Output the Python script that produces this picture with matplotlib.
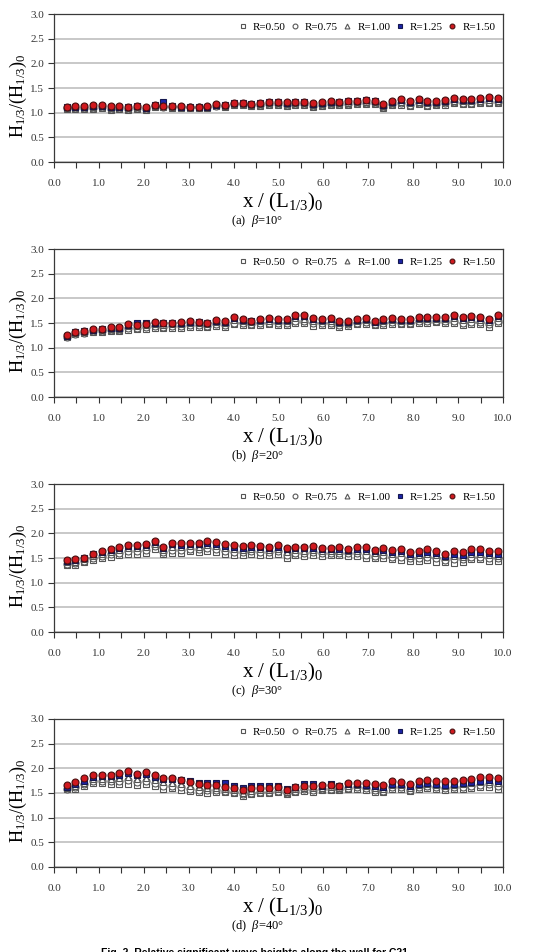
import matplotlib
matplotlib.use("Agg")
import matplotlib.pyplot as plt

plt.rcParams["font.family"] = ["Liberation Serif", "DejaVu Serif"]
plt.rcParams["mathtext.fontset"] = "custom"
plt.rcParams["mathtext.rm"] = "Liberation Serif"
plt.rcParams["mathtext.it"] = "Liberation Serif:italic"

# measuring positions along the wall, x / (L1/3)0
x = [0.28, 0.47, 0.67, 0.86, 1.06, 1.26, 1.45, 1.65, 1.84, 2.04,
     2.24, 2.43, 2.63, 2.82, 3.02, 3.22, 3.41, 3.61, 3.80, 4.00,
     4.20, 4.39, 4.59, 4.78, 4.98, 5.18, 5.37, 5.57, 5.76, 5.96,
     6.16, 6.35, 6.55, 6.74, 6.94, 7.14, 7.33, 7.53, 7.72, 7.92,
     8.12, 8.31, 8.51, 8.70, 8.90, 9.10, 9.29, 9.49, 9.68, 9.88]

labels = ["R=0.50", "R=0.75", "R=1.00", "R=1.25", "R=1.50"]
captions = [r"(a)  $\beta$=10°", r"(b)  $\beta$=20°", r"(c)  $\beta$=30°", r"(d)  $\beta$=40°"]

# beta = 10
r050_a = [1.07,1.07,1.07,1.08,1.09,1.06,1.07,1.05,1.07,1.05,1.11,1.12,1.10,1.10,1.10,1.10,1.10,1.13,1.12,1.15,1.15,1.14,1.14,1.15,1.16,1.14,1.16,1.15,1.12,1.14,1.16,1.15,1.16,1.17,1.18,1.17,1.10,1.15,1.16,1.13,1.17,1.14,1.15,1.16,1.19,1.18,1.18,1.19,1.19,1.19]
r075_a = [1.09,1.09,1.09,1.10,1.11,1.08,1.09,1.08,1.09,1.07,1.13,1.12,1.11,1.11,1.11,1.11,1.11,1.14,1.13,1.17,1.17,1.15,1.16,1.17,1.18,1.16,1.18,1.17,1.14,1.16,1.18,1.17,1.18,1.19,1.20,1.19,1.12,1.17,1.19,1.16,1.19,1.16,1.17,1.19,1.21,1.20,1.20,1.21,1.21,1.21]
r100_a = [1.10,1.11,1.11,1.12,1.13,1.10,1.11,1.10,1.11,1.09,1.14,1.13,1.12,1.12,1.11,1.11,1.12,1.15,1.14,1.18,1.18,1.16,1.18,1.19,1.19,1.18,1.19,1.19,1.16,1.18,1.20,1.19,1.20,1.21,1.22,1.21,1.14,1.20,1.22,1.19,1.22,1.19,1.20,1.22,1.24,1.23,1.23,1.24,1.25,1.24]
r125_a = [1.11,1.12,1.12,1.14,1.14,1.12,1.12,1.11,1.13,1.10,1.15,1.22,1.13,1.12,1.11,1.11,1.12,1.16,1.15,1.19,1.19,1.17,1.19,1.21,1.21,1.20,1.21,1.21,1.18,1.20,1.22,1.21,1.23,1.23,1.25,1.23,1.16,1.22,1.25,1.22,1.25,1.21,1.22,1.24,1.28,1.26,1.25,1.28,1.29,1.27]
r150_a = [1.12,1.13,1.13,1.15,1.15,1.13,1.13,1.12,1.14,1.11,1.16,1.14,1.14,1.13,1.12,1.12,1.13,1.17,1.16,1.20,1.20,1.18,1.20,1.22,1.22,1.21,1.22,1.22,1.19,1.21,1.23,1.22,1.24,1.24,1.26,1.24,1.18,1.24,1.27,1.24,1.27,1.23,1.24,1.26,1.30,1.28,1.27,1.30,1.31,1.29]

# beta = 20
r050_b = [1.21,1.27,1.29,1.32,1.32,1.33,1.33,1.36,1.37,1.38,1.39,1.39,1.40,1.40,1.42,1.42,1.41,1.44,1.41,1.47,1.45,1.45,1.46,1.47,1.46,1.46,1.51,1.49,1.44,1.45,1.46,1.42,1.43,1.48,1.48,1.45,1.46,1.48,1.48,1.47,1.50,1.51,1.52,1.50,1.51,1.46,1.48,1.48,1.42,1.51]
r075_b = [1.22,1.28,1.30,1.33,1.34,1.35,1.35,1.39,1.40,1.41,1.43,1.42,1.43,1.44,1.46,1.45,1.44,1.48,1.45,1.51,1.49,1.48,1.50,1.51,1.50,1.50,1.55,1.54,1.49,1.49,1.50,1.46,1.47,1.51,1.52,1.48,1.50,1.52,1.51,1.51,1.54,1.54,1.55,1.54,1.55,1.51,1.53,1.52,1.47,1.55]
r100_b = [1.23,1.30,1.32,1.35,1.36,1.38,1.38,1.43,1.44,1.45,1.47,1.46,1.47,1.48,1.50,1.49,1.48,1.52,1.49,1.56,1.54,1.52,1.54,1.55,1.54,1.54,1.60,1.59,1.54,1.54,1.55,1.50,1.51,1.55,1.56,1.52,1.54,1.56,1.55,1.55,1.58,1.58,1.59,1.58,1.60,1.56,1.58,1.57,1.53,1.60]
r125_b = [1.24,1.31,1.33,1.36,1.37,1.40,1.40,1.46,1.49,1.50,1.51,1.49,1.50,1.51,1.53,1.52,1.50,1.55,1.53,1.60,1.57,1.54,1.57,1.58,1.57,1.57,1.64,1.64,1.58,1.57,1.58,1.52,1.53,1.57,1.58,1.53,1.57,1.59,1.57,1.57,1.61,1.60,1.61,1.60,1.64,1.60,1.62,1.60,1.57,1.64]
r150_b = [1.25,1.32,1.34,1.37,1.38,1.41,1.41,1.47,1.46,1.47,1.52,1.50,1.51,1.52,1.54,1.53,1.51,1.56,1.54,1.62,1.59,1.55,1.58,1.60,1.59,1.59,1.66,1.66,1.60,1.59,1.60,1.54,1.55,1.59,1.60,1.55,1.59,1.61,1.59,1.59,1.63,1.62,1.63,1.62,1.66,1.62,1.64,1.62,1.59,1.66]

# beta = 30
r050_c = [1.36,1.36,1.41,1.46,1.51,1.53,1.56,1.58,1.59,1.61,1.68,1.58,1.61,1.61,1.64,1.62,1.64,1.62,1.59,1.57,1.56,1.59,1.57,1.57,1.58,1.51,1.56,1.55,1.57,1.55,1.56,1.56,1.55,1.55,1.50,1.50,1.49,1.47,1.46,1.43,1.44,1.45,1.42,1.41,1.40,1.41,1.47,1.48,1.44,1.44]
r075_c = [1.38,1.39,1.44,1.50,1.55,1.58,1.61,1.64,1.65,1.67,1.74,1.63,1.67,1.67,1.69,1.68,1.70,1.68,1.65,1.63,1.62,1.64,1.63,1.62,1.64,1.57,1.61,1.60,1.62,1.60,1.60,1.60,1.60,1.60,1.57,1.55,1.56,1.53,1.53,1.49,1.51,1.52,1.49,1.46,1.48,1.47,1.53,1.53,1.50,1.50]
r100_c = [1.41,1.42,1.47,1.54,1.59,1.63,1.66,1.70,1.70,1.72,1.79,1.67,1.73,1.73,1.74,1.73,1.76,1.74,1.71,1.68,1.67,1.69,1.68,1.67,1.69,1.63,1.66,1.65,1.67,1.65,1.65,1.65,1.64,1.65,1.64,1.60,1.62,1.59,1.60,1.55,1.57,1.59,1.56,1.52,1.55,1.53,1.59,1.59,1.56,1.55]
r125_c = [1.43,1.45,1.50,1.58,1.63,1.67,1.71,1.75,1.75,1.77,1.83,1.71,1.78,1.77,1.78,1.78,1.80,1.78,1.75,1.72,1.71,1.72,1.72,1.70,1.72,1.68,1.71,1.70,1.71,1.68,1.68,1.69,1.67,1.69,1.69,1.64,1.67,1.63,1.64,1.59,1.61,1.63,1.60,1.55,1.59,1.57,1.62,1.63,1.60,1.59]
r150_c = [1.45,1.47,1.51,1.59,1.64,1.68,1.72,1.76,1.76,1.78,1.85,1.72,1.81,1.80,1.81,1.80,1.84,1.82,1.78,1.76,1.74,1.76,1.75,1.73,1.76,1.70,1.73,1.72,1.74,1.71,1.71,1.72,1.69,1.72,1.72,1.67,1.70,1.66,1.68,1.62,1.65,1.68,1.64,1.59,1.64,1.62,1.68,1.68,1.65,1.64]

# beta = 40
r050_d = [1.58,1.59,1.64,1.71,1.71,1.69,1.69,1.69,1.66,1.68,1.65,1.59,1.60,1.56,1.54,1.52,1.51,1.52,1.52,1.49,1.44,1.47,1.51,1.50,1.53,1.48,1.53,1.55,1.52,1.56,1.56,1.56,1.58,1.58,1.56,1.52,1.52,1.59,1.58,1.54,1.59,1.60,1.58,1.56,1.58,1.59,1.60,1.62,1.62,1.58]
r075_d = [1.59,1.62,1.68,1.75,1.75,1.74,1.75,1.76,1.72,1.74,1.71,1.65,1.65,1.62,1.59,1.57,1.56,1.56,1.55,1.52,1.47,1.51,1.53,1.53,1.55,1.50,1.55,1.58,1.56,1.58,1.59,1.58,1.61,1.62,1.60,1.56,1.55,1.63,1.62,1.57,1.63,1.64,1.62,1.60,1.62,1.63,1.65,1.67,1.68,1.64]
r100_d = [1.61,1.65,1.71,1.79,1.79,1.79,1.81,1.83,1.79,1.81,1.77,1.72,1.71,1.68,1.65,1.62,1.61,1.61,1.59,1.56,1.51,1.55,1.56,1.56,1.58,1.53,1.58,1.61,1.60,1.61,1.62,1.61,1.65,1.66,1.64,1.61,1.59,1.67,1.66,1.61,1.67,1.68,1.66,1.65,1.67,1.68,1.70,1.72,1.73,1.70]
r125_d = [1.62,1.68,1.75,1.83,1.84,1.85,1.87,1.90,1.86,1.88,1.83,1.79,1.78,1.76,1.74,1.71,1.71,1.70,1.70,1.64,1.60,1.64,1.64,1.64,1.65,1.58,1.63,1.68,1.68,1.65,1.68,1.64,1.69,1.69,1.66,1.64,1.62,1.69,1.69,1.64,1.69,1.70,1.68,1.67,1.69,1.70,1.73,1.75,1.76,1.74]
r150_d = [1.66,1.72,1.80,1.86,1.87,1.87,1.91,1.94,1.89,1.92,1.86,1.81,1.80,1.77,1.73,1.68,1.66,1.66,1.62,1.61,1.56,1.60,1.60,1.60,1.62,1.56,1.62,1.65,1.65,1.66,1.66,1.65,1.70,1.71,1.70,1.69,1.67,1.74,1.73,1.68,1.75,1.77,1.74,1.74,1.75,1.77,1.79,1.82,1.83,1.81]

panels = [
    [r050_a, r075_a, r100_a, r125_a, r150_a],
    [r050_b, r075_b, r100_b, r125_b, r150_b],
    [r050_c, r075_c, r100_c, r125_c, r150_c],
    [r050_d, r075_d, r100_d, r125_d, r150_d],
]

styles = [
    dict(marker="s", mfc="white", mec="#555555"),
    dict(marker="o", mfc="white", mec="#555555"),
    dict(marker="^", mfc="white", mec="#555555"),
    dict(marker="s", mfc="#1c24a8", mec="#141850"),
    dict(marker="o", mfc="#d0191f", mec="#4a1010"),
]

W, H = 556, 952
fig = plt.figure(figsize=(W / 100, H / 100), dpi=100)

ax_top_px = [14, 249, 484, 719]
ax_h_px = 148
left_px, right_px = 54, 503

for i, series in enumerate(panels):
    top = ax_top_px[i]
    bottom = top + ax_h_px
    ax = fig.add_axes([left_px / W, 1 - bottom / H, (right_px - left_px) / W, ax_h_px / H])
    for ys, lab, st in zip(series, labels, styles):
        ax.plot(x, ys, linestyle="none", markersize=5.0, markeredgewidth=0.8,
                label=lab, **st)
    ax.set_xlim(0, 10)
    ax.set_ylim(0, 3)
    ax.set_xticks([0, 1, 2, 3, 4, 5, 6, 7, 8, 9, 10])
    ax.set_xticklabels(["%.1f" % v for v in range(11)])
    ax.set_xticks([0.5 + k for k in range(10)], minor=True)
    ax.set_yticks([0, 0.5, 1.0, 1.5, 2.0, 2.5, 3.0])
    ax.set_yticklabels(["0.0", "0.5", "1.0", "1.5", "2.0", "2.5", "3.0"])
    ax.yaxis.grid(True, color="#c4c4c4", linewidth=1.3)
    ax.set_axisbelow(True)
    ax.tick_params(axis="x", which="both", direction="out", length=4, width=0.8,
                   pad=8, labelsize=8, colors="#333333")
    ax.tick_params(axis="y", direction="out", length=4, width=0.8,
                   pad=3, labelsize=8, colors="#333333")
    for sp in ax.spines.values():
        sp.set_color("#3a3a3a")
        sp.set_linewidth(0.9)
    ax.set_ylabel(r"$\mathrm{H_{1/3}/(H_{1/3})_0}$", fontsize=13)
    ax.yaxis.set_label_coords(-25 / (right_px - left_px), 0.45)
    ax.legend(loc="upper right", ncol=5, frameon=False, fontsize=8,
              handlelength=0.8, handletextpad=0.5, columnspacing=0.45,
              markerscale=0.7, borderaxespad=0.3, bbox_to_anchor=(1.0, 1.0))
    fig.text(283 / W, 1 - (bottom + 40) / H, r"$\mathrm{x\ /\ (L_{1/3})_0}$",
             fontsize=15, ha="center", va="center")
    fig.text(257 / W, 1 - (bottom + 59) / H, captions[i],
             fontsize=9, ha="center", va="center")

fig.text(254 / W, 1 - 948 / H, "Fig. 2. Relative significant wave heights along the wall for C21",
         fontsize=7.5, fontweight="bold", family="Liberation Sans", ha="center", va="top")

fig.savefig("out.png", dpi=100)
